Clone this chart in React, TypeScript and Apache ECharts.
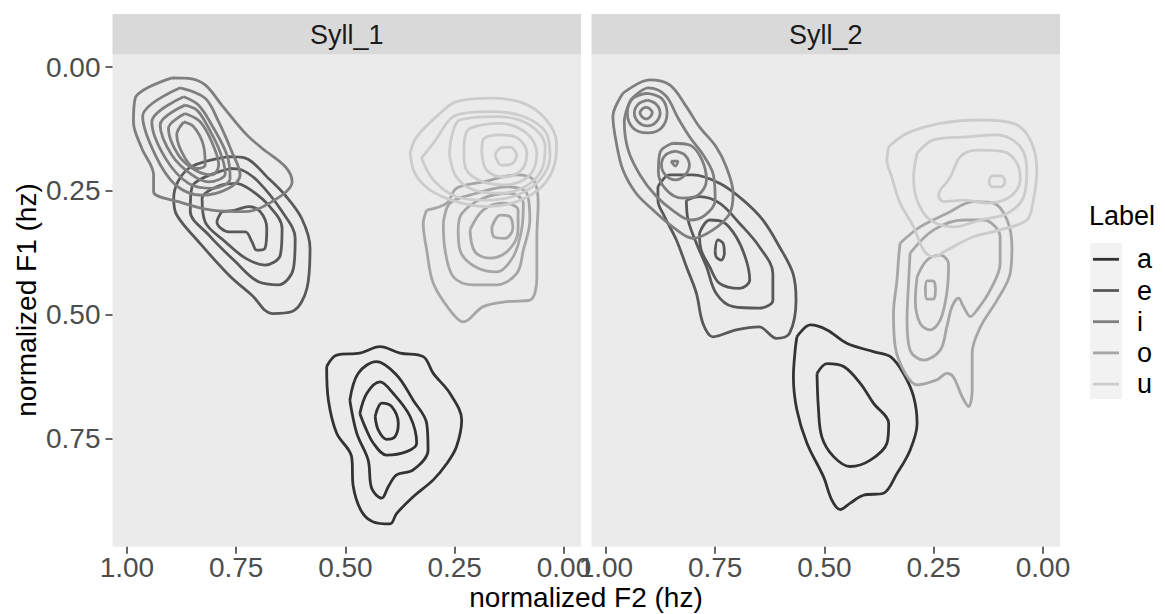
import React, { useEffect, useRef } from "react";
import * as echarts from "echarts";

// ---------- data (normalized F2 = x, normalized F1 = y) ----------
const labels = ["a", "e", "i", "o", "u"];
const facets = ["Syll_1", "Syll_2"];
const xTicks = [0, 0.25, 0.5, 0.75, 1];
const yTicks = [0, 0.25, 0.5, 0.75];

// Syll_1 contour rings
const syll1_a = [
  [[0.543,0.605],[0.520,0.582],[0.467,0.578],[0.421,0.565],[0.375,0.578],[0.322,0.585],[0.299,0.619],[0.261,0.659],[0.234,0.713],[0.246,0.767],[0.268,0.801],[0.299,0.834],[0.345,0.868],[0.383,0.902],[0.398,0.923],[0.436,0.919],[0.463,0.898],[0.482,0.848],[0.486,0.787],[0.520,0.740],[0.539,0.673]],
  [[0.490,0.673],[0.471,0.619],[0.429,0.595],[0.383,0.622],[0.345,0.673],[0.314,0.720],[0.311,0.774],[0.345,0.814],[0.383,0.824],[0.402,0.848],[0.417,0.871],[0.440,0.851],[0.448,0.794],[0.474,0.740]],
  [[0.467,0.700],[0.451,0.659],[0.421,0.636],[0.391,0.659],[0.352,0.706],[0.337,0.760],[0.360,0.777],[0.406,0.784],[0.436,0.760],[0.455,0.727]],
  [[0.432,0.706],[0.417,0.679],[0.394,0.686],[0.379,0.720],[0.387,0.747],[0.406,0.752],[0.425,0.733]],
];
const syll1_e = [
  [[0.767,0.181],[0.729,0.184],[0.676,0.225],[0.638,0.259],[0.600,0.306],[0.581,0.366],[0.588,0.447],[0.622,0.494],[0.668,0.498],[0.714,0.461],[0.767,0.420],[0.836,0.353],[0.886,0.299],[0.893,0.265],[0.859,0.205]],
  [[0.764,0.205],[0.737,0.208],[0.699,0.232],[0.645,0.292],[0.615,0.346],[0.619,0.407],[0.653,0.440],[0.699,0.434],[0.752,0.393],[0.813,0.339],[0.855,0.292],[0.851,0.242]],
  [[0.783,0.238],[0.752,0.235],[0.722,0.245],[0.676,0.279],[0.645,0.326],[0.649,0.380],[0.684,0.400],[0.729,0.386],[0.775,0.353],[0.821,0.313],[0.828,0.265]],
  [[0.783,0.292],[0.752,0.289],[0.722,0.282],[0.695,0.292],[0.680,0.326],[0.684,0.366],[0.703,0.370],[0.714,0.353],[0.729,0.333],[0.767,0.333],[0.794,0.313]],
];
const syll1_i = [
  [[0.897,0.022],[0.859,0.023],[0.821,0.036],[0.783,0.077],[0.729,0.134],[0.691,0.164],[0.638,0.201],[0.622,0.232],[0.668,0.272],[0.729,0.292],[0.806,0.289],[0.882,0.272],[0.939,0.252],[0.939,0.218],[0.966,0.164],[0.985,0.111],[0.981,0.063]],
  [[0.878,0.042],[0.821,0.063],[0.790,0.111],[0.760,0.171],[0.741,0.218],[0.767,0.245],[0.828,0.259],[0.889,0.238],[0.935,0.178],[0.964,0.100]],
  [[0.870,0.060],[0.836,0.077],[0.806,0.117],[0.771,0.178],[0.764,0.225],[0.806,0.245],[0.859,0.235],[0.912,0.184],[0.943,0.111]],
  [[0.867,0.077],[0.840,0.087],[0.817,0.117],[0.787,0.171],[0.775,0.215],[0.813,0.232],[0.851,0.218],[0.897,0.178],[0.924,0.117]],
  [[0.867,0.094],[0.832,0.111],[0.806,0.151],[0.790,0.198],[0.806,0.218],[0.844,0.208],[0.882,0.178],[0.905,0.124]],
  [[0.870,0.111],[0.847,0.121],[0.825,0.158],[0.821,0.198],[0.840,0.205],[0.867,0.184],[0.886,0.137]],
];
const syll1_o = [
  [[0.314,0.289],[0.268,0.275],[0.246,0.245],[0.185,0.232],[0.108,0.218],[0.070,0.228],[0.059,0.275],[0.062,0.343],[0.062,0.424],[0.078,0.471],[0.131,0.474],[0.185,0.484],[0.230,0.515],[0.261,0.491],[0.299,0.437],[0.314,0.370],[0.322,0.316]],
  [[0.276,0.316],[0.261,0.275],[0.200,0.255],[0.131,0.242],[0.085,0.255],[0.078,0.309],[0.093,0.370],[0.108,0.417],[0.154,0.440],[0.208,0.440],[0.253,0.424],[0.272,0.370]],
  [[0.242,0.329],[0.234,0.296],[0.185,0.265],[0.124,0.255],[0.093,0.275],[0.097,0.329],[0.116,0.383],[0.154,0.414],[0.204,0.403],[0.238,0.370]],
  [[0.215,0.329],[0.185,0.289],[0.139,0.275],[0.105,0.289],[0.105,0.329],[0.127,0.370],[0.169,0.386],[0.204,0.373]],
  [[0.165,0.323],[0.146,0.299],[0.124,0.302],[0.117,0.326],[0.135,0.346],[0.160,0.343]],
];
const syll1_u = [
  [[0.352,0.174],[0.337,0.141],[0.284,0.094],[0.246,0.070],[0.169,0.063],[0.093,0.073],[0.040,0.107],[0.017,0.154],[0.021,0.195],[0.051,0.242],[0.108,0.272],[0.177,0.282],[0.246,0.272],[0.307,0.248],[0.341,0.215]],
  [[0.326,0.184],[0.299,0.154],[0.246,0.097],[0.169,0.090],[0.093,0.100],[0.040,0.134],[0.032,0.181],[0.055,0.228],[0.108,0.259],[0.177,0.269],[0.246,0.262],[0.299,0.228]],
  [[0.262,0.178],[0.257,0.141],[0.238,0.107],[0.154,0.100],[0.078,0.117],[0.043,0.161],[0.051,0.208],[0.089,0.242],[0.146,0.255],[0.208,0.248],[0.246,0.222]],
  [[0.229,0.174],[0.227,0.144],[0.215,0.124],[0.146,0.114],[0.085,0.134],[0.062,0.174],[0.078,0.218],[0.131,0.238],[0.185,0.232],[0.223,0.208]],
  [[0.188,0.174],[0.185,0.147],[0.146,0.137],[0.105,0.144],[0.085,0.174],[0.097,0.208],[0.139,0.222],[0.177,0.208]],
  [[0.158,0.178],[0.146,0.164],[0.124,0.162],[0.108,0.178],[0.120,0.196],[0.143,0.198]],
];

// Syll_2 contour rings
const syll2_a = [
  [[0.563,0.545],[0.532,0.521],[0.494,0.531],[0.449,0.558],[0.388,0.575],[0.349,0.585],[0.319,0.619],[0.296,0.666],[0.288,0.720],[0.304,0.774],[0.334,0.821],[0.365,0.861],[0.411,0.865],[0.441,0.881],[0.464,0.894],[0.483,0.875],[0.502,0.828],[0.540,0.760],[0.563,0.693],[0.571,0.626],[0.567,0.572]],
  [[0.517,0.619],[0.494,0.599],[0.456,0.605],[0.418,0.639],[0.388,0.679],[0.353,0.720],[0.357,0.760],[0.395,0.794],[0.441,0.807],[0.479,0.787],[0.506,0.747],[0.514,0.686]],
];
const syll2_e = [
  [[0.881,0.242],[0.854,0.218],[0.801,0.218],[0.740,0.235],[0.686,0.269],[0.641,0.309],[0.603,0.363],[0.572,0.417],[0.565,0.471],[0.580,0.538],[0.610,0.548],[0.649,0.525],[0.702,0.531],[0.755,0.545],[0.778,0.518],[0.793,0.457],[0.816,0.403],[0.839,0.349],[0.866,0.302],[0.881,0.269]],
  [[0.816,0.269],[0.786,0.262],[0.740,0.275],[0.694,0.316],[0.649,0.363],[0.618,0.417],[0.618,0.471],[0.649,0.487],[0.709,0.484],[0.748,0.457],[0.770,0.403],[0.793,0.356],[0.812,0.309]],
  [[0.786,0.336],[0.763,0.309],[0.732,0.313],[0.702,0.343],[0.679,0.390],[0.671,0.430],[0.694,0.447],[0.740,0.437],[0.763,0.403],[0.782,0.370]],
  [[0.750,0.370],[0.744,0.349],[0.732,0.356],[0.729,0.376],[0.736,0.390],[0.748,0.383]],
];
const syll2_i = [
  [[0.961,0.053],[0.900,0.026],[0.854,0.036],[0.816,0.080],[0.786,0.121],[0.748,0.161],[0.725,0.201],[0.709,0.255],[0.717,0.296],[0.755,0.329],[0.801,0.346],[0.847,0.323],[0.892,0.289],[0.931,0.255],[0.961,0.208],[0.976,0.154],[0.984,0.100]],
  [[0.944,0.067],[0.903,0.042],[0.864,0.057],[0.835,0.103],[0.807,0.143],[0.777,0.178],[0.754,0.218],[0.750,0.269],[0.773,0.299],[0.807,0.309],[0.848,0.289],[0.887,0.259],[0.922,0.218],[0.949,0.168],[0.958,0.111]],
  [[0.905,0.053],[0.873,0.063],[0.860,0.093],[0.873,0.123],[0.905,0.133],[0.938,0.123],[0.951,0.093],[0.938,0.063]],
  [[0.905,0.067],[0.885,0.075],[0.876,0.093],[0.885,0.111],[0.905,0.119],[0.926,0.111],[0.935,0.093],[0.926,0.075]],
  [[0.908,0.081],[0.899,0.085],[0.894,0.093],[0.899,0.101],[0.908,0.105],[0.917,0.101],[0.922,0.093],[0.917,0.085]],
  [[0.848,0.154],[0.807,0.158],[0.780,0.188],[0.770,0.228],[0.789,0.259],[0.825,0.265],[0.862,0.248],[0.880,0.212],[0.876,0.172]],
  [[0.841,0.170],[0.819,0.178],[0.809,0.198],[0.819,0.218],[0.841,0.228],[0.864,0.218],[0.873,0.198],[0.864,0.178]],
  [[0.851,0.190],[0.835,0.190],[0.841,0.200]],
];
const syll2_o = [
  [[0.327,0.356],[0.281,0.323],[0.220,0.296],[0.159,0.272],[0.113,0.275],[0.082,0.309],[0.071,0.363],[0.075,0.417],[0.105,0.471],[0.143,0.525],[0.162,0.578],[0.162,0.653],[0.170,0.686],[0.185,0.666],[0.205,0.626],[0.220,0.619],[0.243,0.632],[0.288,0.642],[0.315,0.619],[0.338,0.565],[0.342,0.498],[0.334,0.430],[0.330,0.383]],
  [[0.304,0.376],[0.250,0.329],[0.182,0.309],[0.136,0.309],[0.098,0.343],[0.098,0.397],[0.121,0.451],[0.151,0.491],[0.166,0.504],[0.182,0.484],[0.193,0.467],[0.208,0.484],[0.220,0.525],[0.235,0.572],[0.273,0.592],[0.304,0.572],[0.311,0.511],[0.308,0.444]],
  [[0.288,0.424],[0.265,0.390],[0.235,0.380],[0.216,0.397],[0.220,0.457],[0.235,0.511],[0.258,0.531],[0.281,0.518],[0.292,0.471]],
  [[0.269,0.451],[0.265,0.432],[0.251,0.432],[0.246,0.451],[0.251,0.469],[0.265,0.469]],
];
const syll2_u = [
  [[0.353,0.161],[0.311,0.134],[0.235,0.114],[0.143,0.107],[0.067,0.114],[0.029,0.147],[0.014,0.208],[0.022,0.269],[0.037,0.309],[0.098,0.329],[0.159,0.343],[0.220,0.370],[0.250,0.383],[0.273,0.370],[0.296,0.323],[0.327,0.275],[0.346,0.222],[0.357,0.188]],
  [[0.288,0.174],[0.250,0.147],[0.174,0.141],[0.105,0.137],[0.052,0.161],[0.037,0.208],[0.044,0.262],[0.082,0.296],[0.143,0.309],[0.205,0.323],[0.258,0.309],[0.288,0.269],[0.296,0.222]],
  [[0.235,0.248],[0.212,0.222],[0.189,0.181],[0.151,0.168],[0.090,0.171],[0.059,0.195],[0.052,0.228],[0.075,0.262],[0.128,0.275],[0.182,0.269],[0.227,0.272],[0.239,0.259]],
  [[0.124,0.232],[0.116,0.220],[0.095,0.220],[0.087,0.232],[0.095,0.242],[0.116,0.242]],
];

const rings = [
  { a: syll1_a, e: syll1_e, i: syll1_i, o: syll1_o, u: syll1_u },
  { a: syll2_a, e: syll2_e, i: syll2_i, o: syll2_o, u: syll2_u },
];

// ---------- styles / layout ----------
const GREY: Record<string, string> = { a: "#333333", e: "#595959", i: "#7F7F7F", o: "#A6A6A6", u: "#CCCCCC" };
const FONT = "Liberation Sans, Arial, Helvetica, sans-serif";
const PANEL_TOP = 54.5;
const PANEL_H = 492.2;
const PANELS = [
  { left: 112.5, width: 468.5 },
  { left: 591.5, width: 468.5 },
];
const X_MIN = -0.039, X_MAX = 1.033;
const Y_MIN = -0.0253, Y_MAX = 0.969;

function buildOption() {
  const grid = PANELS.map((p) => ({
    left: p.left, top: PANEL_TOP, width: p.width, height: PANEL_H,
    show: true, backgroundColor: "#EBEBEB", borderWidth: 0,
  }));
  const fmt = (v: number) => v.toFixed(2);
  const xAxis = PANELS.map((_, k) => ({
    type: "value", gridIndex: k, inverse: true, min: X_MIN, max: X_MAX, position: "bottom",
    axisLine: { show: false, onZero: false }, splitLine: { show: false },
    axisTick: { show: true, customValues: xTicks, length: 7, lineStyle: { color: "#333333", width: 1.5 } },
    axisLabel: { customValues: xTicks, formatter: fmt, color: "#4D4D4D", fontSize: 28, fontFamily: FONT, margin: 7 },
  }));
  const yAxis = PANELS.map((_, k) => ({
    type: "value", gridIndex: k, inverse: true, min: Y_MIN, max: Y_MAX, position: "left",
    axisLine: { show: false, onZero: false }, splitLine: { show: false },
    axisTick: { show: k === 0, customValues: yTicks, length: 7, lineStyle: { color: "#333333", width: 1.5 } },
    axisLabel: { show: k === 0, customValues: yTicks, formatter: fmt, color: "#4D4D4D", fontSize: 28, fontFamily: FONT, margin: 12 },
  }));
  const series: any[] = [];
  rings.forEach((panel: any, k) => {
    labels.forEach((lab) => {
      (panel[lab] as number[][][]).forEach((ring) => {
        series.push({
          type: "line", name: lab, xAxisIndex: k, yAxisIndex: k,
          data: [...ring, ring[0]], showSymbol: false, symbol: "none",
          smooth: 0.35, silent: true,
          lineStyle: { color: GREY[lab], width: 2.8 },
        });
      });
    });
  });

  const graphic: any[] = [];
  PANELS.forEach((p, k) => {
    graphic.push({ type: "rect", shape: { x: p.left, y: 14, width: p.width, height: PANEL_TOP - 14 }, style: { fill: "#D9D9D9" } });
    graphic.push({ type: "text", x: p.left + p.width / 2, y: 35, style: { text: facets[k], fill: "#1A1A1A", fontSize: 27, fontFamily: FONT, align: "center", verticalAlign: "middle" } });
  });
  graphic.push({ type: "text", x: 586, y: 597, style: { text: "normalized F2 (hz)", fill: "#000000", fontSize: 28, fontFamily: FONT, align: "center", verticalAlign: "middle" } });
  graphic.push({ type: "text", x: 26, y: 300, rotation: Math.PI / 2, style: { text: "normalized F1 (hz)", fill: "#000000", fontSize: 28, fontFamily: FONT, align: "center", verticalAlign: "middle" } });
  // legend
  graphic.push({ type: "text", x: 1089, y: 216, style: { text: "Label", fill: "#000000", fontSize: 27, fontFamily: FONT, align: "left", verticalAlign: "middle" } });
  graphic.push({ type: "rect", shape: { x: 1090, y: 243, width: 32, height: 156 }, style: { fill: "#F2F2F2" } });
  labels.forEach((lab, j) => {
    const cy = 259.3 + j * 31.2;
    graphic.push({ type: "line", shape: { x1: 1093, y1: cy, x2: 1119, y2: cy }, style: { stroke: GREY[lab], lineWidth: 2.8 } });
    graphic.push({ type: "text", x: 1137, y: cy, style: { text: lab, fill: "#000000", fontSize: 27, fontFamily: FONT, align: "left", verticalAlign: "middle" } });
  });

  return {
    animation: false,
    backgroundColor: "#FFFFFF",
    textStyle: { fontFamily: FONT },
    grid, xAxis, yAxis, series, graphic,
  };
}

export default function App() {
  const ref = useRef<HTMLDivElement>(null);
  useEffect(() => {
    if (!ref.current) return;
    const chart = echarts.init(ref.current, null, { renderer: "svg" });
    chart.setOption(buildOption() as any);
    return () => chart.dispose();
  }, []);
  return <div ref={ref} style={{ position: "absolute", left: 0, top: 0, width: 1165, height: 614 }} />;
}
